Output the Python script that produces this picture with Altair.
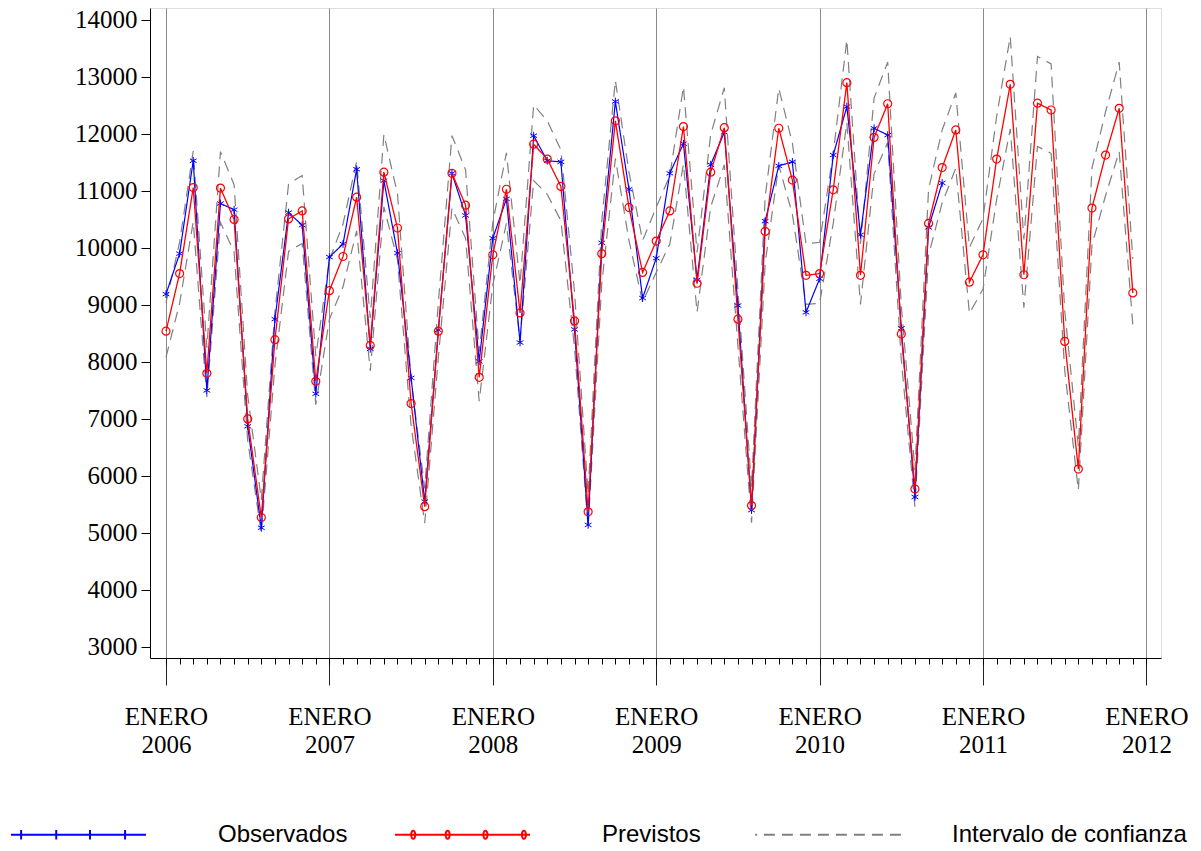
import altair as alt
import pandas as pd

# ---------------- data ----------------
anios = [2006, 2007, 2008, 2009, 2010, 2011, 2012]
etiqueta_mes = "ENERO"
series = ["Observados", "Previstos", "Intervalo de confianza"]

# monthly values from January 2006
observados = [
    9190, 9900, 11530, 7500, 10780, 10670, 6870, 5090, 8750, 10620, 10400, 7440,
    9840, 10070, 11380, 8230, 11180, 9910, 7720, 5550, 8560, 11310, 10570, 8010,
    10170, 10860, 8340, 11970, 11530, 11510, 8570, 5140, 10090, 12570, 11030, 9120,
    9820, 11310, 11830, 9440, 11460, 12030, 8990, 5400, 10470, 11440, 11510, 8870,
    9460, 11630, 12480, 10230, 12100, 11980, 8590, 5630, 10360, 11140,
]
previstos = [
    8540, 9550, 11060, 7800, 11050, 10500, 7000, 5270, 8390, 10510, 10650, 7660,
    9250, 9850, 10890, 8290, 11330, 10350, 7270, 5460, 8540, 11310, 10750, 7730,
    9880, 11030, 8860, 11820, 11560, 11080, 8720, 5370, 9900, 12230, 10710, 9570,
    10120, 10650, 12130, 9380, 11330, 12110, 8750, 5480, 10290, 12100, 11190, 9520,
    9550, 11020, 12900, 9520, 11940, 12530, 8490, 5770, 10430, 11410, 12070, 9400,
    9880, 11560, 12870, 9530, 12540, 12420, 8360, 6120, 10700, 11630, 12450, 9210,
]
ic_superior = [
    9040, 10100, 11700, 8250, 11690, 11110, 7410, 5580, 8880, 11120, 11270, 8100,
    9790, 10420, 11520, 8770, 11990, 10950, 7690, 5780, 9040, 11970, 11370, 8180,
    10450, 11670, 9370, 12510, 12230, 11720, 9230, 5680, 10470, 12940, 11330, 10130,
    10710, 11270, 12830, 9920, 11990, 12810, 9260, 5800, 10890, 12800, 11840, 10070,
    10100, 11660, 13650, 10070, 12630, 13260, 8980, 6100, 11030, 12070, 12720, 10010,
    10520, 12310, 13710, 10150, 13360, 13230, 8900, 6520, 11400, 12390, 13260, 9810,
]
ic_inferior = [
    8080, 9030, 10460, 7380, 10450, 9930, 6620, 4990, 7940, 9940, 10080, 7250,
    8750, 9320, 10300, 7840, 10720, 9790, 6880, 5170, 8080, 10700, 10170, 7310,
    9350, 10430, 8380, 11180, 10940, 10480, 8250, 5080, 9370, 11570, 10130, 9050,
    9570, 10070, 11470, 8870, 10720, 11460, 8280, 5180, 9730, 11450, 10590, 9010,
    9030, 10430, 12200, 9010, 11300, 11850, 8030, 5460, 9870, 10790, 11400, 8850,
    9280, 10850, 12090, 8950, 11780, 11660, 7850, 5750, 10050, 10920, 11690, 8650,
]
y_ticks = [3000, 4000, 5000, 6000, 7000, 8000, 9000, 10000, 11000, 12000, 13000, 14000]

# ---------------- table ----------------
rows = []
for i, v in enumerate(observados):
    rows.append({"t": i, "valor": v, "serie": series[0], "banda": "obs"})
for i, v in enumerate(previstos):
    rows.append({"t": i, "valor": v, "serie": series[1], "banda": "prev"})
for i, v in enumerate(ic_superior):
    rows.append({"t": i, "valor": v, "serie": series[2], "banda": "sup"})
for i, v in enumerate(ic_inferior):
    rows.append({"t": i, "valor": v, "serie": series[2], "banda": "inf"})
df = pd.DataFrame(rows)

n_months = 12 * (len(anios) - 1)
major_vals = [12 * k for k in range(len(anios))]
minor_vals = list(range(n_months + 1))

x_scale = alt.Scale(domain=[-1.175, 73.07], nice=False, zero=False)
y_scale = alt.Scale(domain=[2805, 14210], nice=False, zero=False)

major_axis = alt.Axis(
    orient="bottom", values=major_vals, title=None,
    grid=True, gridColor="#8a8a8a", gridWidth=1,
    tickSize=27, tickColor="#222222", tickWidth=1,
    domain=True, domainColor="black",
    labelExpr=f"['{etiqueta_mes}', '' + {anios}[round(datum.value / 12)]]",
    labelFont="Liberation Serif", labelFontSize=25, labelColor="black",
    labelLineHeight=28, labelPadding=19, labelBaseline="top",
)
minor_axis = alt.Axis(
    orient="bottom", values=minor_vals, title=None, grid=False,
    tickSize=6, tickColor="black", labels=False, domain=False,
)
y_axis = alt.Axis(
    values=y_ticks, title=None, grid=False, tickSize=9, tickColor="black", format="d",
    domainColor="black", labelFont="Liberation Serif", labelFontSize=25,
    labelColor="black", labelPadding=4,
)

legend_paths = [
    "M-1,0H1M-0.85,-0.07V0.07M-0.33,-0.07V0.07M0.17,-0.07V0.07M0.69,-0.07V0.07",
    "M-1,0H1M-0.73,-0.06A0.03,0.06 0 1,0 -0.73,0.06A0.03,0.06 0 1,0 -0.73,-0.06"
    "M-0.22,-0.06A0.03,0.06 0 1,0 -0.22,0.06A0.03,0.06 0 1,0 -0.22,-0.06"
    "M0.34,-0.06A0.03,0.06 0 1,0 0.34,0.06A0.03,0.06 0 1,0 0.34,-0.06"
    "M0.91,-0.06A0.03,0.06 0 1,0 0.91,0.06A0.03,0.06 0 1,0 0.91,-0.06",
    "M-0.85,0H-0.82M-0.72,0H1.32",
]
legend = alt.Legend(
    orient="none", legendX=-140, legendY=758, direction="horizontal", title=None,
    symbolSize=18225, symbolStrokeWidth=2, symbolFillColor="transparent",
    labelFont="Liberation Sans", labelFontSize=24, labelColor="black",
    labelOffset=71, columnPadding=43, labelLimit=0,
)

color = alt.Color("serie:N", scale=alt.Scale(domain=series, range=["#0000ff", "#ff0000", "#808080"]), legend=legend)
dash = alt.StrokeDash("serie:N", scale=alt.Scale(domain=series, range=[[1, 0], [1, 0], [11, 7]]), legend=legend)
shape = alt.Shape("serie:N", scale=alt.Scale(domain=series, range=legend_paths), legend=legend)

base = alt.Chart(df)
y = alt.Y("valor:Q", scale=y_scale, axis=y_axis)

ci = base.transform_filter(f"datum.serie == '{series[2]}'").mark_line(strokeWidth=1.2).encode(
    x=alt.X("t:Q", scale=x_scale, axis=major_axis), y=y, color=color, strokeDash=dash, detail="banda:N"
)
obs_line = base.transform_filter(f"datum.serie == '{series[0]}'").mark_line(strokeWidth=1.2).encode(
    x=alt.X("t:Q", scale=x_scale, axis=minor_axis), y=y, color=color, strokeDash=dash
)
asterisk = "M0,-1V1M-0.87,-0.5L0.87,0.5M-0.87,0.5L0.87,-0.5"
obs_pts = base.transform_filter(f"datum.serie == '{series[0]}'").mark_point(
    shape=asterisk, size=60, filled=False, strokeWidth=1, opacity=1
).encode(x=alt.X("t:Q", scale=x_scale, axis=None), y=y, color=color)
prev_line = base.transform_filter(f"datum.serie == '{series[1]}'").mark_line(strokeWidth=1.3).encode(
    x=alt.X("t:Q", scale=x_scale, axis=None), y=y, color=color, strokeDash=dash
)
prev_pts = base.transform_filter(f"datum.serie == '{series[1]}'").mark_point(
    shape="circle", size=64, filled=False, strokeWidth=1.2, opacity=1
).encode(x=alt.X("t:Q", scale=x_scale, axis=None), y=y, color=color)
legend_layer = base.transform_filter("false").mark_point(filled=False, opacity=1, strokeWidth=2).encode(
    x=alt.X("t:Q", scale=x_scale, axis=None), y=y, color=color, shape=shape
)

chart = alt.layer(ci, obs_line, obs_pts, prev_line, prev_pts, legend_layer).resolve_axis(
    x="independent"
).properties(
    width=1011, height=650,
    autosize=alt.AutoSizeParams(type="none"),
    padding={"left": 142, "top": 0, "right": 30, "bottom": 185},
).configure_view(stroke="black", strokeWidth=1).configure(background="white")

chart.save("out.html", embed_options={"renderer": "svg", "actions": False})
